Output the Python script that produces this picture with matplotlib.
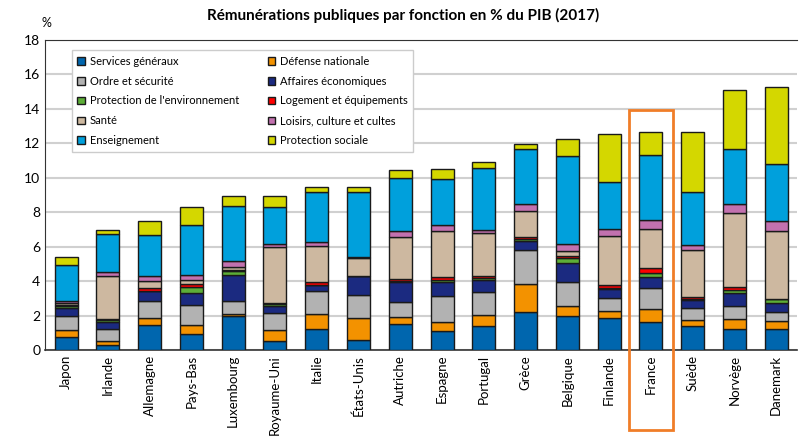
import matplotlib
matplotlib.use("Agg")
from matplotlib import pyplot as plt
from matplotlib.patches import Rectangle
import numpy as np

plt.rcParams['font.family'] = ['Lato', 'DejaVu Sans']

pays = ["Japon", "Irlande", "Allemagne", "Pays-Bas", "Luxembourg", "Royaume-Uni",
        "Italie", "États-Unis", "Autriche", "Espagne", "Portugal", "Grèce",
        "Belgique", "Finlande", "France", "Suède", "Norvège", "Danemark"]

services = [0.77, 0.31, 1.45, 0.91, 1.98, 0.52, 1.21, 0.60, 1.50, 1.12, 1.41, 2.18, 1.98, 1.83, 1.60, 1.39, 1.21, 1.21]
defense = [0.37, 0.23, 0.40, 0.55, 0.10, 0.62, 0.87, 1.23, 0.39, 0.48, 0.63, 1.65, 0.56, 0.41, 0.79, 0.34, 0.58, 0.45]
ordre = [0.86, 0.67, 1.02, 1.16, 0.79, 1.02, 1.37, 1.37, 0.88, 1.54, 1.35, 1.97, 1.41, 0.75, 1.21, 0.68, 0.77, 0.56]
affaires = [0.45, 0.43, 0.54, 0.69, 1.47, 0.40, 0.31, 1.08, 1.20, 0.79, 0.66, 0.50, 1.12, 0.57, 0.66, 0.50, 0.73, 0.50]
environnement = [0.12, 0.10, 0.04, 0.33, 0.25, 0.12, 0.03, 0.02, 0.06, 0.15, 0.11, 0.15, 0.25, 0.06, 0.23, 0.04, 0.18, 0.23]
logement = [0.05, 0.05, 0.13, 0.18, 0.04, 0.04, 0.18, 0.02, 0.07, 0.16, 0.16, 0.08, 0.11, 0.16, 0.29, 0.15, 0.21, 0.03]
sante = [0.12, 2.53, 0.45, 0.25, 0.20, 3.23, 2.08, 1.00, 2.45, 2.64, 2.48, 1.54, 0.33, 2.83, 2.25, 2.70, 4.28, 3.90]
loisirs = [0.10, 0.19, 0.25, 0.30, 0.35, 0.20, 0.19, 0.06, 0.33, 0.35, 0.19, 0.39, 0.37, 0.42, 0.50, 0.29, 0.50, 0.60]
enseignement = [2.07, 2.25, 2.37, 2.91, 3.16, 2.15, 2.91, 3.78, 3.10, 2.69, 3.59, 3.18, 5.10, 2.74, 3.80, 3.08, 3.22, 3.33]
protection = [0.47, 0.22, 0.82, 0.99, 0.62, 0.66, 0.31, 0.31, 0.49, 0.57, 0.32, 0.29, 1.02, 2.75, 1.30, 3.49, 3.42, 4.44]

series = [
    ("Services généraux", services, "#0066AE"),
    ("Défense nationale", defense, "#F39200"),
    ("Ordre et sécurité", ordre, "#B2B2B2"),
    ("Affaires économiques", affaires, "#1B2A80"),
    ("Protection de l'environnement", environnement, "#5DAE37"),
    ("Logement et équipements", logement, "#FF0000"),
    ("Santé", sante, "#CDB8A0"),
    ("Loisirs, culture et cultes", loisirs, "#C271AF"),
    ("Enseignement", enseignement, "#00A0DC"),
    ("Protection sociale", protection, "#D4D700"),
]

fig = plt.figure(figsize=(8.06, 4.38), dpi=100)
ax = fig.add_axes([0.056, 0.201, 0.933, 0.708])

x = np.arange(len(pays))
bottom = np.zeros(len(pays))
handles = []
for nom, vals, col in series:
    b = ax.bar(x, vals, 0.55, bottom=bottom, color=col, edgecolor="#1a1a1a",
               linewidth=1.0, label=nom, zorder=3)
    handles.append(b)
    bottom += np.array(vals)

ax.set_xlim(-0.5, 17.5)
ax.set_ylim(0, 18)
ax.set_yticks(range(0, 19, 2))
ax.yaxis.grid(True, color="#d0d0d0", linewidth=1.5, zorder=0)
ax.set_xticks(x)
ax.set_xticklabels(pays, rotation=90, fontsize=9.5)
ax.tick_params(axis="y", labelsize=10, length=0)
ax.tick_params(axis="x", length=0)
ax.spines["right"].set_visible(False)
ax.spines["top"].set_color("#333333")
ax.spines["left"].set_color("#333333")
ax.spines["bottom"].set_color("#333333")
ax.spines["bottom"].set_linewidth(1.2)

fig.text(0.5, 0.965, "Rémunérations publiques par fonction en % du PIB (2017)",
         ha="center", va="center", fontsize=11, fontweight="bold")
fig.text(0.052, 0.948, "%", ha="left", va="center", fontsize=9)

# cadre orange autour de la France
ax.add_patch(Rectangle((13.47, -4.65), 1.05, 18.6, fill=False, edgecolor="#F07D28",
                       linewidth=2, clip_on=False, zorder=5))

# légende remplie ligne par ligne
ordre_leg = [handles[i] for i in (0, 2, 4, 6, 8, 1, 3, 5, 7, 9)]
leg = ax.legend(handles=ordre_leg, loc="upper left", bbox_to_anchor=(0.028, 0.985),
                ncol=2, fontsize=8, frameon=True, fancybox=False,
                edgecolor="#cccccc", framealpha=1, handlelength=0.7,
                handleheight=0.7, handletextpad=0.4, columnspacing=2.6,
                labelspacing=0.8, borderpad=0.5)
leg.set_zorder(6)

plt.savefig("out.png", dpi=100)
